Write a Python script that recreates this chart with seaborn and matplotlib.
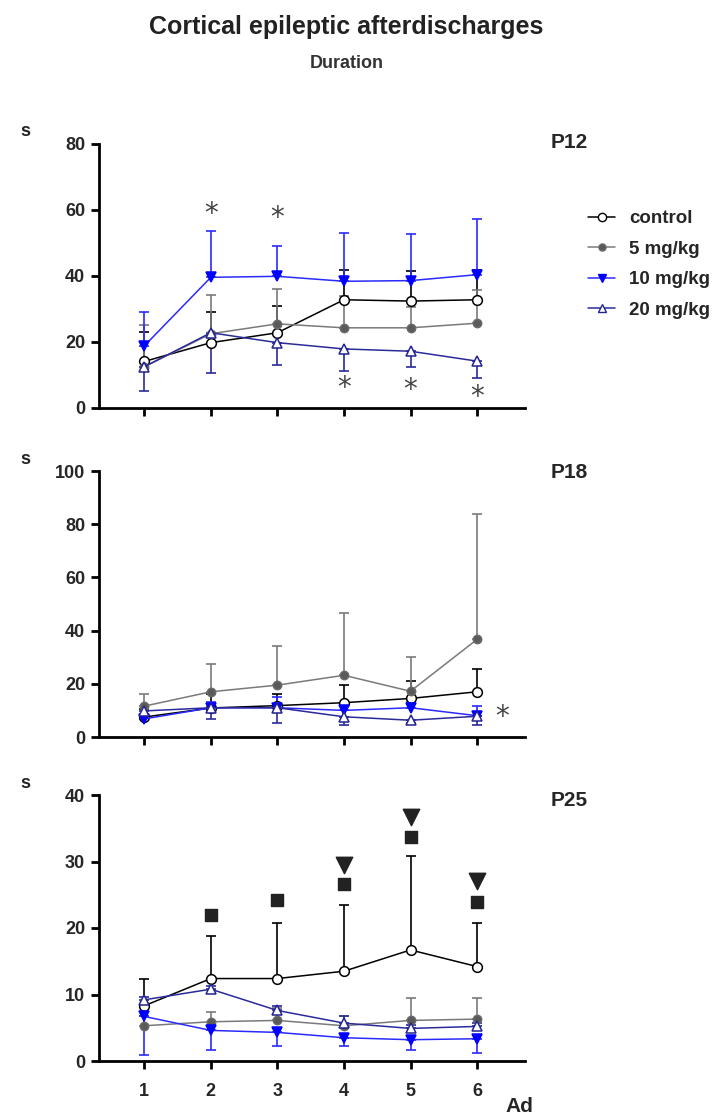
import numpy as np
import pandas as pd
import matplotlib
matplotlib.use("Agg")
import matplotlib.pyplot as plt
import seaborn as sns
from matplotlib.lines import Line2D

sns.set_theme(style="ticks")
plt.rcParams['font.family'] = ['Liberation Sans', 'DejaVu Sans']

# ---------------- data ----------------
ad = [1, 2, 3, 4, 5, 6]
groups = ["control", "5 mg/kg", "10 mg/kg", "20 mg/kg"]

# P12
p12_control = [14.1, 19.8, 22.8, 32.8, 32.4, 32.8]
p12_control_sd = [8.8, 9.2, 8.2, 9.0, 9.0, 9.0]
p12_5mg = [12.5, 22.5, 25.5, 24.3, 24.3, 25.7]
p12_5mg_sd = [12.6, 11.7, 10.7, 9.5, 6.2, 10.0]
p12_10mg = [18.8, 39.6, 39.9, 38.4, 38.6, 40.4]
p12_10mg_sd = [10.4, 14.1, 9.2, 14.5, 14.0, 16.8]
p12_20mg = [12.5, 22.8, 19.8, 17.9, 17.2, 14.2]
p12_20mg_sd = [7.4, 12.3, 6.9, 6.6, 4.7, 5.2]

# P18
p18_control = [7.5, 10.9, 11.8, 12.9, 14.5, 17.0]
p18_control_sd = [3.0, 5.4, 4.5, 6.6, 6.7, 8.4]
p18_5mg = [11.6, 17.0, 19.5, 23.2, 17.2, 36.7]
p18_5mg_sd = [4.5, 10.5, 14.7, 23.3, 12.8, 47.1]
p18_10mg = [6.8, 11.0, 11.0, 10.0, 11.0, 8.0]
p18_10mg_sd = [2.0, 2.0, 4.0, 2.0, 2.0, 3.8]
p18_20mg = [9.8, 11.0, 11.0, 7.6, 6.3, 7.8]
p18_20mg_sd = [2.0, 4.1, 5.8, 3.2, 1.1, 3.4]

# P25
p25_control = [8.3, 12.4, 12.4, 13.5, 16.7, 14.2]
p25_control_sd = [4.0, 6.4, 8.3, 10.0, 14.2, 6.5]
p25_5mg = [5.3, 5.9, 6.1, 5.3, 6.1, 6.3]
p25_5mg_sd = [1.5, 1.5, 1.9, 1.5, 3.3, 3.1]
p25_10mg = [6.7, 4.6, 4.3, 3.5, 3.2, 3.35]
p25_10mg_sd = [5.8, 3.0, 2.0, 1.2, 1.5, 2.1]
p25_20mg = [9.2, 10.8, 7.6, 5.7, 4.9, 5.2]
p25_20mg_sd = [0.4, 0.5, 0.6, 1.1, 0.5, 0.5]

# error direction per panel / group: +1 upper, -1 lower
p12_dir = [1, 1, 1, -1]
p18_dir = [1, 1, 1, -1]
p25_dir = [1, 1, -1, 1]

# significance marks
p12_star_x = [2, 3, 4, 5, 6]
p12_star_y = [58.8, 57.7, 6.0, 5.5, 3.4]
p18_star_x = [6.37]
p18_star_y = [7.4]
p25_sq_x = [2, 3, 4, 5, 6]
p25_sq_y = [22.0, 24.2, 26.6, 33.7, 23.9]
p25_tri_x = [4, 5, 6]
p25_tri_y = [29.5, 36.7, 27.0]

panels = [
    ("P12", [p12_control, p12_5mg, p12_10mg, p12_20mg],
     [p12_control_sd, p12_5mg_sd, p12_10mg_sd, p12_20mg_sd], p12_dir, 80, 20),
    ("P18", [p18_control, p18_5mg, p18_10mg, p18_20mg],
     [p18_control_sd, p18_5mg_sd, p18_10mg_sd, p18_20mg_sd], p18_dir, 100, 20),
    ("P25", [p25_control, p25_5mg, p25_10mg, p25_20mg],
     [p25_control_sd, p25_5mg_sd, p25_10mg_sd, p25_20mg_sd], p25_dir, 40, 10),
]

# ---------------- styles ----------------
colors = ["#000000", "#6a6a6a", "#0000ff", "#23238f"]
markers = ["o", "o", "v", "^"]
mfc = ["white", "#5a5a5a", "#0000ff", "white"]
msz = [7, 6, 6.5, 6.5]
line_colors = ["#000000", "#7a7a7a", "#2a2aff", "#2a2a9a"]

W, H = 713, 1118
fig = plt.figure(figsize=(W / 100, H / 100), dpi=100)

ax_px = [(144, 408), (471, 737), (795, 1061)]
label_y = [142, 472, 800]
left_px, right_px = 99, 525

for i, (name, means, sds, dirs, ymax, ystep) in enumerate(panels):
    top, bot = ax_px[i]
    ax = fig.add_axes([left_px / W, 1 - bot / H, (right_px - left_px) / W, (bot - top) / H])
    rows = []
    for g, m in zip(groups, means):
        for a, v in zip(ad, m):
            rows.append({"Ad": a, "value": v, "group": g})
    df = pd.DataFrame(rows)
    order = [1, 0, 3, 2] if i != 2 else [1, 3, 2, 0]
    for k in order:
        g = groups[k]
        sub = df[df.group == g]
        m = np.array(means[k]); s = np.array(sds[k])
        if dirs[k] > 0:
            yerr = [np.zeros_like(s), s]
        else:
            yerr = [s, np.zeros_like(s)]
        ax.errorbar(ad, m, yerr=yerr, fmt="none", ecolor=line_colors[k],
                    elinewidth=1.2, capsize=3.5, capthick=1.2, zorder=2 + k * 0.1)
        sns.lineplot(data=sub, x="Ad", y="value", ax=ax, color=line_colors[k],
                     marker=markers[k], markersize=msz[k], markerfacecolor=mfc[k],
                     markeredgecolor=colors[k], markeredgewidth=1.1, linewidth=1.1,
                     zorder=3 + k * 0.1, legend=False)
    ax.set_xlim(0.32, 6.72)
    ax.set_ylim(0, ymax)
    ax.set_yticks(np.arange(0, ymax + 1, ystep))
    ax.set_xticks(ad)
    ax.set_xlabel("")
    ax.set_ylabel("")
    for sp in ["top", "right"]:
        ax.spines[sp].set_visible(False)
    for sp in ["left", "bottom"]:
        ax.spines[sp].set_linewidth(2)
        ax.spines[sp].set_color("black")
    ax.tick_params(axis="both", direction="out", length=6, width=2, color="black",
                   labelsize=13, pad=4)
    for lab in ax.get_yticklabels() + ax.get_xticklabels():
        lab.set_fontweight("bold")
    if i < 2:
        ax.set_xticklabels([])
    else:
        ax.tick_params(axis="x", pad=10)
    ax.patch.set_alpha(0)

    if i == 0:
        for x, y in zip(p12_star_x, p12_star_y):
            ax.text(x, y, "*", ha="center", va="center", fontsize=20, color="#444444",
                    family="DejaVu Sans")
    if i == 1:
        for x, y in zip(p18_star_x, p18_star_y):
            ax.text(x, y, "*", ha="center", va="center", fontsize=20, color="#444444",
                    family="DejaVu Sans", clip_on=False)
    if i == 2:
        ax.scatter(p25_sq_x, p25_sq_y, marker="s", s=80, color="#222222", zorder=5)
        ax.scatter(p25_tri_x, p25_tri_y, marker="v", s=140, color="#222222", zorder=5)

    fig.text(25 / W, 1 - (top - 12) / H, "s", ha="center", va="center",
             fontsize=13, fontweight="bold", color="#222222")
    fig.text(551 / W, 1 - label_y[i] / H, name, ha="left", va="center",
             fontsize=15, fontweight="bold")

fig.text(519 / W, 1 - 1107 / H, "Ad", ha="center", va="center", fontsize=15,
         fontweight="bold")
fig.text(346 / W, 1 - 27 / H, "Cortical epileptic afterdischarges", ha="center",
         va="center", fontsize=18, fontweight="bold", color="#222222")
fig.text(347 / W, 1 - 64 / H, "Duration", ha="center", va="center", fontsize=13,
         fontweight="bold", color="#333333")

handles = [Line2D([0], [0], color=line_colors[k], marker=markers[k], markersize=msz[k] * 0.85,
                  markerfacecolor=mfc[k], markeredgecolor=colors[k], linewidth=1.1)
           for k in range(4)]
leg = fig.legend(handles, groups, loc="upper left", bbox_to_anchor=(588 / W, 1 - 210 / H),
                 frameon=False, prop={"weight": "bold", "size": 13.5}, handlelength=1.45,
                 handletextpad=0.75, labelspacing=0.72, borderaxespad=0, borderpad=0)

fig.savefig("out.png", dpi=100)
